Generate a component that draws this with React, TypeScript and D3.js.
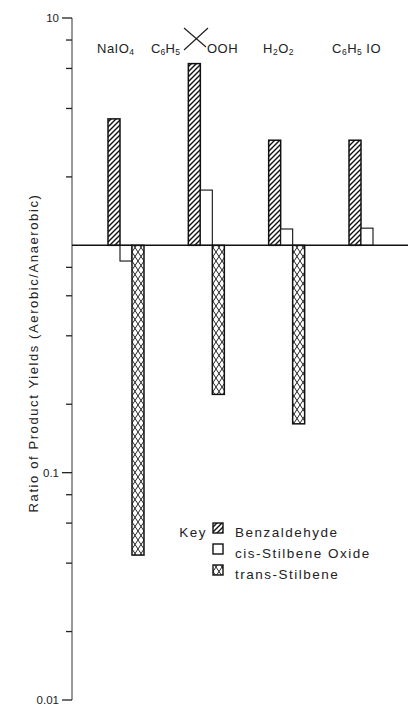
import React from "react";
import * as d3 from "d3";

const categories = ["NaIO4", "C6H5C(CH3)2OOH", "H2O2", "C6H5IO"];
const seriesNames = ["Benzaldehyde", "cis-Stilbene Oxide", "trans-Stilbene"];
const benzaldehyde = [3.6, 6.3, 2.9, 2.9];
const cisOxide = [0.853, 1.75, 1.18, 1.19];
const transStilbene: (number | null)[] = [0.0434, 0.221, 0.164, null];
const majorTicks = [0.01, 0.1, 10];
const minorTicks = [0.02, 0.04, 0.06, 0.08, 0.2, 0.4, 0.6, 0.8, 2, 4, 6, 8];

const W = 408;
const H = 705;
const FONT = "'Liberation Sans', Arial, Helvetica, sans-serif";
const AXIS_X = 72;

export default function App() {
  const y = d3.scaleLog().domain([0.01, 10]).range([700, 18]);
  const x = d3
    .scaleBand<string>()
    .domain(categories)
    .range([108, 385])
    .paddingInner(0.552)
    .paddingOuter(0);
  const xs = d3.scaleBand<string>().domain(seriesNames).range([0, x.bandwidth()]);
  const fills = ["url(#hatch)", "#fff", "url(#cross)"];
  const values = [benzaldehyde, cisOxide, transStilbene];
  const y1 = y(1);

  const bars: React.ReactNode[] = [];
  categories.forEach((c, ci) => {
    seriesNames.forEach((s, si) => {
      const v = values[si][ci];
      if (v == null) return;
      const yv = y(v);
      bars.push(
        <rect
          key={c + s}
          x={(x(c) as number) + (xs(s) as number)}
          y={Math.min(yv, y1)}
          width={xs.bandwidth()}
          height={Math.abs(yv - y1)}
          fill={fills[si]}
          stroke="#111"
          strokeWidth={si === 1 ? 1.1 : 1.5}
        />
      );
    });
  });

  const sub = (t: string) => (
    <tspan fontSize={8.5} dy={2}>
      {t}
    </tspan>
  );

  return (
    <svg
      width={W}
      height={H}
      style={{ position: "absolute", left: 0, top: 0, background: "#fff" }}
      fontFamily={FONT}
    >
      <defs>
        <pattern id="hatch" patternUnits="userSpaceOnUse" width={5} height={5}>
          <rect width={5} height={5} fill="#fff" />
          <path d="M0,5 L5,0 M-1,1 L1,-1 M4,6 L6,4" stroke="#111" strokeWidth={1.4} />
        </pattern>
        <pattern id="cross" patternUnits="userSpaceOnUse" width={6} height={9}>
          <rect width={6} height={9} fill="#fff" />
          <path d="M0,0 L6,9 M6,0 L0,9" stroke="#222" strokeWidth={1} />
        </pattern>
      </defs>

      {/* y axis */}
      <line x1={AXIS_X} x2={AXIS_X} y1={y(10)} y2={y(0.01)} stroke="#333" strokeWidth={1} />
      {majorTicks.map((t) => (
        <g key={"M" + t}>
          <line x1={AXIS_X - 10} x2={AXIS_X} y1={y(t)} y2={y(t)} stroke="#222" strokeWidth={1.3} />
          <text x={AXIS_X - 13} y={y(t)} dy="0.35em" textAnchor="end" fontSize={11.5} fill="#222">
            {String(t)}
          </text>
        </g>
      ))}
      {minorTicks.map((t) => (
        <line key={"m" + t} x1={AXIS_X - 6} x2={AXIS_X} y1={y(t)} y2={y(t)} stroke="#222" strokeWidth={1.3} />
      ))}

      {/* axis title */}
      <text
        transform={`translate(33,${353}) rotate(-90)`}
        textAnchor="middle"
        dy="0.35em"
        fontSize={13}
        letterSpacing={1.6}
        fill="#222"
      >
        Ratio of Product Yields (Aerobic/Anaerobic)
      </text>

      {bars}

      {/* baseline at ratio 1 */}
      <line x1={AXIS_X} x2={W} y1={y1} y2={y1} stroke="#111" strokeWidth={1.5} />

      {/* category labels */}
      <g fontSize={13} fill="#222" letterSpacing={0.5}>
        <text x={97} y={53}>
          NaIO{sub("4")}
        </text>
        <text x={151} y={53} letterSpacing={0.2}>
          C{sub("6")}
          <tspan dy={-2}>H</tspan>
          {sub("5")}
        </text>
        <path d="M184,50 L208,28 M184,28 L206,47" stroke="#222" strokeWidth={1.2} fill="none" />
        <text x={207} y={53}>OOH</text>
        <text x={263} y={53}>
          H{sub("2")}
          <tspan dy={-2}>O</tspan>
          {sub("2")}
        </text>
        <text x={332} y={53}>
          C{sub("6")}
          <tspan dy={-2}>H</tspan>
          {sub("5")}
          <tspan dy={-2}> IO</tspan>
        </text>
      </g>

      {/* legend */}
      <g fontSize={13.5} fill="#222" letterSpacing={1.5}>
        <text x={207} y={537} textAnchor="end">Key</text>
        {seriesNames.map((s, i) => (
          <g key={s}>
            <rect
              x={213}
              y={523 + i * 21}
              width={10}
              height={10}
              fill={fills[i]}
              stroke="#111"
              strokeWidth={1.4}
            />
            <text x={235} y={533 + i * 21 + 4}>
              {s}
            </text>
          </g>
        ))}
      </g>
    </svg>
  );
}
